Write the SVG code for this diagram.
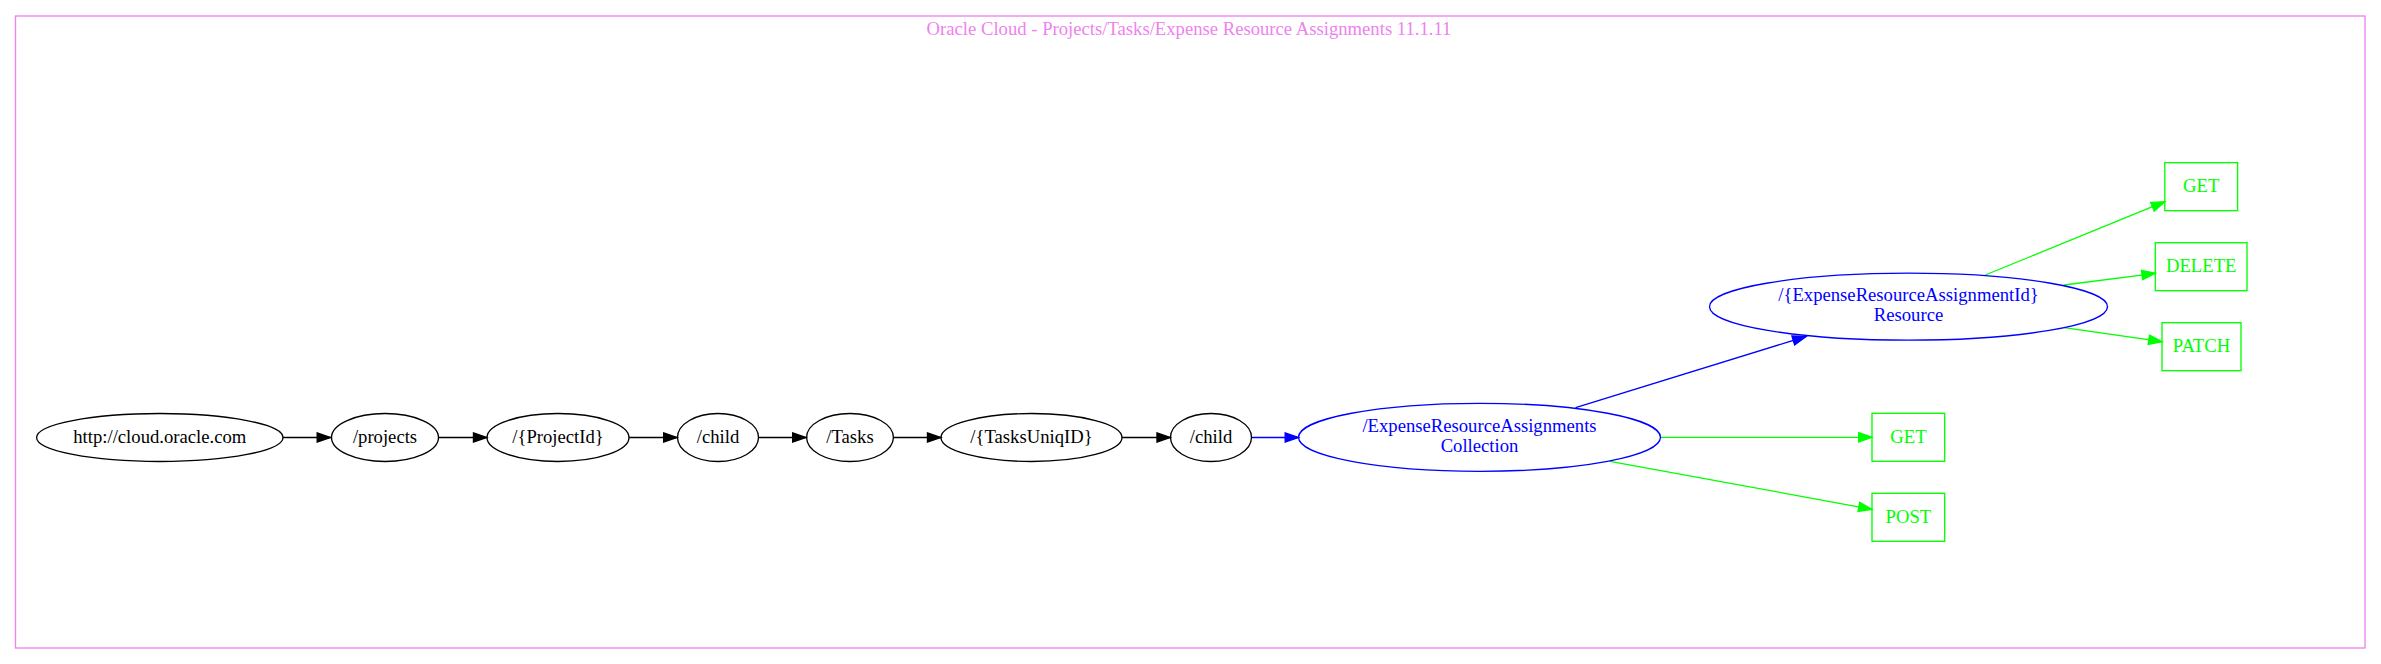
<svg xmlns="http://www.w3.org/2000/svg" width="2381" height="664" viewBox="0 0 2381 664">
<style>
text{font-family:"Liberation Serif","Times New Roman",serif;font-size:18.67px;text-anchor:middle}
.k ellipse{fill:none;stroke:#000;stroke-width:1.33}
.k text{fill:#000}
.b ellipse{fill:none;stroke:#0000ff;stroke-width:1.33}
.b text{fill:#0000ff}
.g rect{fill:none;stroke:#00ff00;stroke-width:1.33}
.g text{fill:#00ff00}
.ek{stroke:#000;stroke-width:1.33;fill:none;marker-end:url(#ak)}
.eb{stroke:#0000ff;stroke-width:1.33;fill:none;marker-end:url(#ab)}
.eg{stroke:#00ff00;stroke-width:1.33;fill:none;marker-end:url(#ag)}
</style>
<defs>
<marker id="ak" markerUnits="userSpaceOnUse" markerWidth="16" markerHeight="12" refX="13.33" refY="4.67" orient="auto" overflow="visible"><path d="M0,0L13.33,4.67L0,9.33z" fill="#000" stroke="#000" stroke-width="1.33"/></marker>
<marker id="ab" markerUnits="userSpaceOnUse" markerWidth="16" markerHeight="12" refX="13.33" refY="4.67" orient="auto" overflow="visible"><path d="M0,0L13.33,4.67L0,9.33z" fill="#0000ff" stroke="#0000ff" stroke-width="1.33"/></marker>
<marker id="ag" markerUnits="userSpaceOnUse" markerWidth="16" markerHeight="12" refX="13.33" refY="4.67" orient="auto" overflow="visible"><path d="M0,0L13.33,4.67L0,9.33z" fill="#00ff00" stroke="#00ff00" stroke-width="1.33"/></marker>
</defs>
<rect width="2381" height="664" fill="#fff"/>
<g id="cluster">
<rect x="15.5" y="16" width="2349.5" height="632" fill="none" stroke="#ee82ee" stroke-width="1.33"/>
<text x="1189" y="34.5" fill="#ee82ee">Oracle Cloud - Projects/Tasks/Expense Resource Assignments 11.1.11</text>
</g>
<g id="edges">
<path class="ek" d="M283,437.5H330.5"/>
<path class="ek" d="M439,437.5H486.8"/>
<path class="ek" d="M629,437.5H677"/>
<path class="ek" d="M758.5,437.5H806"/>
<path class="ek" d="M893.3,437.5H940.8"/>
<path class="ek" d="M1122,437.5H1170.3"/>
<path class="eb" d="M1251.8,437.5H1298.5"/>
<path class="eb" d="M1575.6,407.7L1806,336.5"/>
<path class="eg" d="M1660.6,437.3H1872"/>
<path class="eg" d="M1610,461.3L1872,509.3"/>
<path class="eg" d="M1985.3,275L2164.8,201.7"/>
<path class="eg" d="M2064,285L2155.3,273.3"/>
<path class="eg" d="M2064,327.7L2162,341.7"/>
</g>
<g id="n_http" class="k"><ellipse cx="159.8" cy="437.5" rx="123.2" ry="24"/><text x="159.8" y="442.8">http://cloud.oracle.com</text></g>
<g id="n_projects" class="k"><ellipse cx="385" cy="437.5" rx="53.5" ry="24"/><text x="385" y="442.8">/projects</text></g>
<g id="n_projectid" class="k"><ellipse cx="558" cy="437.5" rx="71" ry="24"/><text x="558" y="442.8">/{ProjectId}</text></g>
<g id="n_child1" class="k"><ellipse cx="718" cy="437.5" rx="40.5" ry="24"/><text x="718" y="442.8">/child</text></g>
<g id="n_tasks" class="k"><ellipse cx="850" cy="437.5" rx="43.4" ry="24"/><text x="850" y="442.8">/Tasks</text></g>
<g id="n_tasksuniqid" class="k"><ellipse cx="1031.5" cy="437.5" rx="90.5" ry="24"/><text x="1031.5" y="442.8">/{TasksUniqID}</text></g>
<g id="n_child2" class="k"><ellipse cx="1211" cy="437.5" rx="40.5" ry="24"/><text x="1211" y="442.8">/child</text></g>
<g id="n_collection" class="b"><ellipse cx="1479.5" cy="437.3" rx="181" ry="34"/><text x="1479.5" y="431.7">/ExpenseResourceAssignments</text><text x="1479.5" y="451.7">Collection</text></g>
<g id="n_resource" class="b"><ellipse cx="1908.5" cy="306.7" rx="199" ry="33.5"/><text x="1908.5" y="301.1">/{ExpenseResourceAssignmentId}</text><text x="1908.5" y="321.1">Resource</text></g>
<g id="n_coll_get" class="g"><rect x="1872" y="413.3" width="72.7" height="48"/><text x="1908.4" y="442.6">GET</text></g>
<g id="n_coll_post" class="g"><rect x="1872" y="493.3" width="72.7" height="48"/><text x="1908.4" y="522.6">POST</text></g>
<g id="n_res_get" class="g"><rect x="2164.8" y="162.7" width="72.8" height="48"/><text x="2201.2" y="192">GET</text></g>
<g id="n_res_delete" class="g"><rect x="2155.3" y="242.7" width="91.7" height="48"/><text x="2201.2" y="272">DELETE</text></g>
<g id="n_res_patch" class="g"><rect x="2162" y="322.7" width="79" height="48"/><text x="2201.5" y="352">PATCH</text></g>
</svg>
